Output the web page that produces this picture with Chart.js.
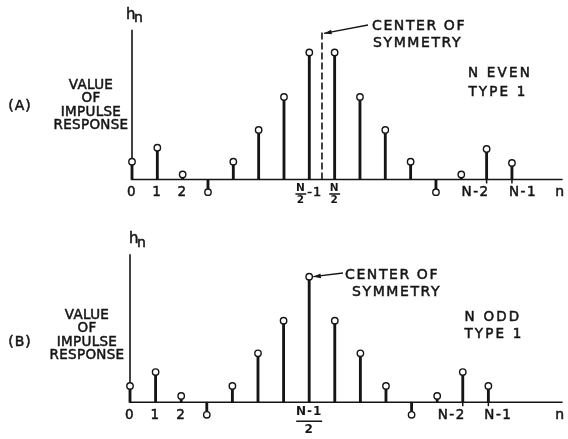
<!DOCTYPE html>
<html>
<head>
<meta charset="utf-8">
<script src="https://cdn.jsdelivr.net/npm/chart.js@4.4.1/dist/chart.umd.min.js"></script>
<style>
  html, body { margin: 0; padding: 0; background: #fff; }
  #wrap { position: relative; width: 568px; height: 439px; overflow: hidden; background: #fff; }
  canvas { position: absolute; left: 0; display: block; }
</style>
</head>
<body>
<div id="wrap">
  <canvas id="chartA" width="568" height="220" style="top:0"></canvas>
  <canvas id="chartB" width="568" height="219" style="top:220px"></canvas>
</div>
<script>
// impulse response values (scaled so the centre sample = 1)
const nEven = [0, 1, 2, 3, 4, 5, 6, 7, 8, 9, 10, 11, 12, 13, 14, 15];
const hEven = [0.14, 0.25, 0.04, -0.10, 0.14, 0.39, 0.65, 1.0, 1.0, 0.65, 0.39, 0.14, -0.10, 0.04, 0.24, 0.13];
const nOdd = [0, 1, 2, 3, 4, 5, 6, 7, 8, 9, 10, 11, 12, 13, 14];
const hOdd = [0.13, 0.24, 0.05, -0.10, 0.13, 0.39, 0.65, 1.0, 0.65, 0.39, 0.13, -0.10, 0.05, 0.24, 0.13];

// labelled positions on the n axis
const ticksEvenAt = [0, 1, 2, 7, 8, 14, 15];
const ticksEvenText = ['0', '1', '2', 'N/2-1', 'N/2', 'N-2', 'N-1'];
const ticksOddAt = [0, 1, 2, 7, 13, 14];
const ticksOddText = ['0', '1', '2', '(N-1)/2', 'N-2', 'N-1'];

// centre of symmetry
const symEven = 7.5;
const symOdd = 7;

const axisTop = 1.18;
const yMin = -0.25;
const ink = '#151515';
const FONT = '"DejaVu Sans", "Liberation Sans", sans-serif';
const sideText = ['VALUE', 'OF', 'IMPULSE', 'RESPONSE'];
const centerText = ['CENTER OF', 'SYMMETRY'];

// lettering a little heavier than the regular face, like the pen lettering
function text(ctx, str, x, y, size, align, spacing) {
    ctx.font = size + 'px ' + FONT;
    ctx.letterSpacing = (spacing || 0) + 'px';
    ctx.textAlign = align || 'center';
    ctx.textBaseline = 'middle';
    ctx.fillStyle = ink;
    ctx.strokeStyle = ink;
    ctx.lineWidth = 0.5;
    ctx.fillText(str, x, y);
    ctx.strokeText(str, x, y);
}

function measure(ctx, str, size, spacing) {
    ctx.font = size + 'px ' + FONT;
    ctx.letterSpacing = (spacing || 0) + 'px';
    return ctx.measureText(str).width;
}

// tick labels: plain, or a stacked fraction like N/2-1 or (N-1)/2
function drawTickLabel(ctx, str, x, base, o) {
    const m = str.match(/^\(?([^()\/]+)\)?\/(\d+)(.*)$/);
    const shift = o.labelShift[str] || 0;
    if (!m) {
        text(ctx, str, x + shift, base + 13, 13.5, 'center', 1.5);
        return;
    }
    const f = o.frac;
    const num = m[1], den = m[2], rest = m[3];
    const w = Math.max(measure(ctx, num, f.size, 1), measure(ctx, den, f.size, 1));
    const restW = rest ? measure(ctx, rest, 13, 1) + 2 : 0;
    const fx = x - (w + restW) / 2 + w / 2;
    ctx.save();
    ctx.font = 'bold ' + f.size + 'px ' + FONT;
    ctx.letterSpacing = '1px';
    ctx.textAlign = 'center';
    ctx.textBaseline = 'middle';
    ctx.fillStyle = ink;
    ctx.fillText(num, fx, base + f.num);
    ctx.fillText(den, fx, base + f.den);
    ctx.fillRect(fx - w / 2 - 1, base + f.bar - 0.75, w + 2, 1.5);
    ctx.restore();
    if (rest) text(ctx, rest, fx + w / 2 + 2, base + 13.5, 13, 'left', 1);
}

function figurePlugin(o) {
    return {
        id: 'figure',
        beforeDatasetsDraw(chart) {
            const { ctx, scales: { x, y } } = chart;
            const x0 = x.getPixelForValue(0), y0 = y.getPixelForValue(0);
            ctx.save();
            ctx.strokeStyle = ink;
            ctx.lineWidth = 1.6;
            ctx.beginPath();
            ctx.moveTo(x0, y.getPixelForValue(axisTop));
            ctx.lineTo(x0, y0);
            ctx.lineTo(x.getPixelForValue(o.xMax), y0);
            ctx.stroke();
            // short marks under the last two labelled samples
            ctx.lineWidth = 1.5;
            o.markAt.forEach(t => {
                const px = x.getPixelForValue(t);
                ctx.beginPath();
                ctx.moveTo(px, y0);
                ctx.lineTo(px, y0 + 4);
                ctx.stroke();
            });
            ctx.restore();
        },
        afterDatasetsDraw(chart) {
            const { ctx, scales: { x, y } } = chart;
            const x0 = x.getPixelForValue(0), y0 = y.getPixelForValue(0);
            const yTop = y.getPixelForValue(axisTop);
            ctx.save();

            // n-axis labels
            o.ticksAt.forEach((t, i) => drawTickLabel(ctx, o.ticksText[i], x.getPixelForValue(t), y0, o));
            text(ctx, 'n', x.getPixelForValue(o.xMax) - 3, y0 + 13, 14, 'center');

            // h_n
            text(ctx, 'h', x0 + o.hnDx, yTop - 15, 15, 'left');
            text(ctx, 'n', x0 + o.hnDx + 8, yTop - 11, 14, 'left');

            // y axis description and panel tag
            sideText.forEach((s, i) => text(ctx, s, o.sideX, o.sideY + i * 13.5, 13.5, 'center', 0.3));
            text(ctx, o.tag, o.tagPos[0], o.tagPos[1], 14, 'center', 1);

            // N EVEN / N ODD
            o.caseText.forEach((s, i) => text(ctx, s, o.casePos[i][0], o.casePos[i][1], 13.5, 'center', 2.2));

            // center of symmetry note with arrow
            centerText.forEach((s, i) => text(ctx, s, o.centerPos[i][0], o.centerPos[i][1], 14, 'left', 1.6));
            const ax = x.getPixelForValue(o.arrowAt.x) + o.arrowAt.dx;
            const ay = y.getPixelForValue(o.arrowAt.y);
            const [sx, sy] = o.arrowFrom;
            ctx.strokeStyle = ink;
            ctx.fillStyle = ink;
            ctx.lineWidth = 1.3;
            ctx.beginPath();
            ctx.moveTo(sx, sy);
            ctx.lineTo(ax, ay);
            ctx.stroke();
            const ang = Math.atan2(ay - sy, ax - sx);
            ctx.beginPath();
            ctx.moveTo(ax, ay);
            ctx.lineTo(ax - 8 * Math.cos(ang - 0.3), ay - 8 * Math.sin(ang - 0.3));
            ctx.lineTo(ax - 8 * Math.cos(ang + 0.3), ay - 8 * Math.sin(ang + 0.3));
            ctx.closePath();
            ctx.fill();
            ctx.restore();
        }
    };
}

function makePanel(id, o) {
    const ppu = 127;
    const canvas = document.getElementById(id);
    const xRight = o.left + o.step * o.xMax;
    const pts = o.n.map((n, i) => ({ x: n, y: o.h[i] }));
    const datasets = [
        {
            type: 'scatter',
            data: pts,
            pointRadius: 3.2,
            pointBackgroundColor: '#fff',
            pointBorderColor: ink,
            pointBorderWidth: 1.4,
            order: 0,
            clip: false
        },
        {
            type: 'bar',
            data: pts,
            backgroundColor: ink,
            barThickness: 2.2,
            order: 1,
            clip: false
        }
    ];
    if (o.dashAt !== undefined) {
        datasets.push({
            type: 'line',
            data: [{ x: o.dashAt, y: 0 }, { x: o.dashAt, y: axisTop - 0.01 }],
            borderColor: ink,
            borderWidth: 1.6,
            borderDash: [7, 3],
            pointRadius: 0,
            order: 2,
            clip: false
        });
    }
    return new Chart(canvas, {
        type: 'scatter',
        data: { datasets },
        options: {
            responsive: false,
            animation: false,
            events: [],
            layout: {
                padding: {
                    left: o.left,
                    right: canvas.width - xRight,
                    top: o.base - axisTop * ppu,
                    bottom: canvas.height - (o.base - yMin * ppu)
                }
            },
            plugins: { legend: { display: false }, tooltip: { enabled: false } },
            scales: {
                x: { type: 'linear', min: 0, max: o.xMax, offset: false, display: false },
                y: { type: 'linear', min: yMin, max: axisTop, display: false }
            }
        },
        plugins: [figurePlugin(o)]
    });
}

makePanel('chartA', {
    n: nEven, h: hEven, ticksAt: ticksEvenAt, ticksText: ticksEvenText,
    left: 132, step: 25.5, xMax: 17, base: 179.5,
    dashAt: symEven, markAt: [14, 15],
    hnDx: -6,
    tag: '(A)', tagPos: [20, 106],
    sideX: 91, sideY: 85,
    caseText: ['N EVEN', 'TYPE 1'], casePos: [[500, 73], [498, 92]],
    centerPos: [[372, 26], [373, 43]],
    arrowFrom: [368, 25], arrowAt: { x: symEven, y: 1.15, dx: 2 },
    labelShift: { 'N-2': -11, 'N-1': 11 },
    frac: { size: 10.5, num: 9, bar: 14.5, den: 20.5 }
});

makePanel('chartB', {
    n: nOdd, h: hOdd, ticksAt: ticksOddAt, ticksText: ticksOddText,
    left: 130, step: 25.7, xMax: 16.9, base: 184,
    markAt: [13, 14],
    hnDx: -1,
    tag: '(B)', tagPos: [20, 122],
    sideX: 87, sideY: 95,
    caseText: ['N ODD', 'TYPE 1'], casePos: [[493, 97], [494, 114]],
    centerPos: [[345, 55], [352, 72]],
    arrowFrom: [343, 53], arrowAt: { x: symOdd, y: 1.0, dx: 4 },
    labelShift: { 'N-2': -11, 'N-1': 10 },
    frac: { size: 12, num: 10, bar: 19, den: 28 }
});
</script>
</body>
</html>
